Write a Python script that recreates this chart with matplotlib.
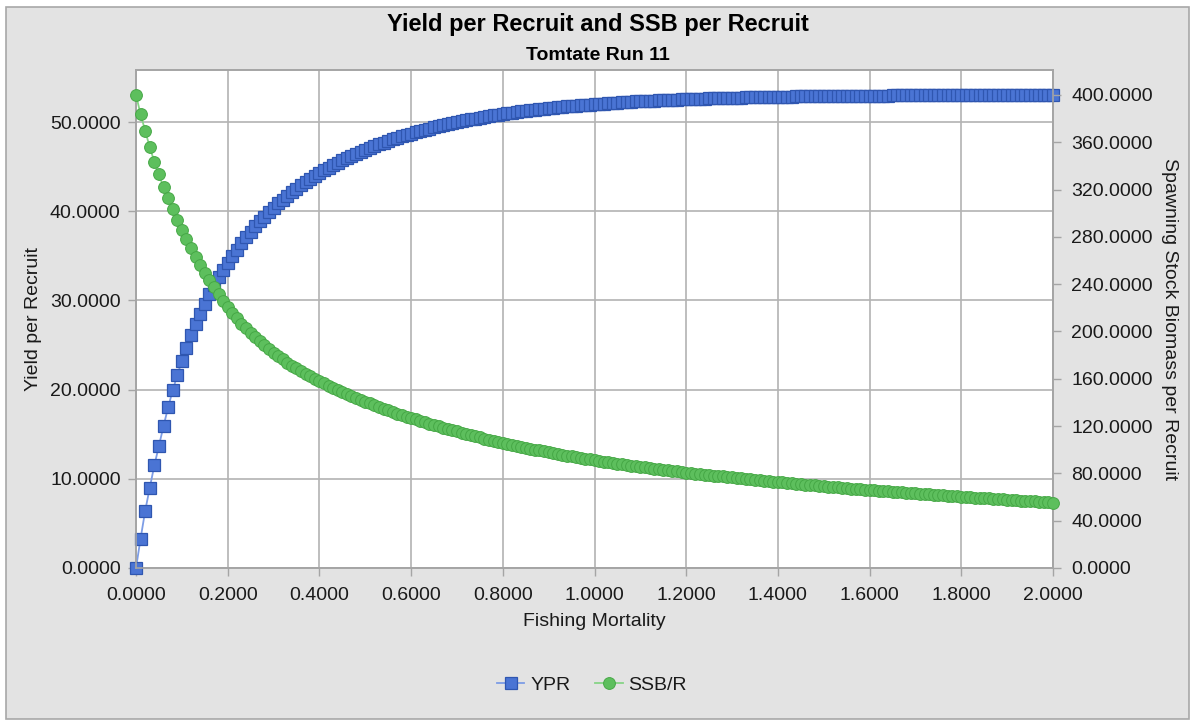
import matplotlib
matplotlib.use("Agg")
import matplotlib.pyplot as plt
from matplotlib.patches import Rectangle
from matplotlib.lines import Line2D
from matplotlib.ticker import FormatStrFormatter, MultipleLocator

plt.rcParams["font.family"] = ["Liberation Sans", "DejaVu Sans"]

# Fishing mortality grid (0.00 .. 2.00 in steps of 0.01)
fishing_mortality = [round(0.01 * i, 2) for i in range(201)]

# Yield per recruit
ypr = [
    0.0, 3.3, 6.4, 9.0, 11.5, 13.7, 15.9, 18.0, 19.9, 21.6,
    23.2, 24.7, 26.1, 27.3, 28.5, 29.6, 30.7, 31.7, 32.6, 33.4,
    34.2, 35.0, 35.7, 36.4, 37.1, 37.7, 38.3, 38.9, 39.4, 39.9,
    40.4, 40.9, 41.3, 41.7, 42.1, 42.5, 42.9, 43.3, 43.6, 44.0,
    44.30, 44.60, 44.89, 45.17, 45.44, 45.70, 45.95, 46.19, 46.43, 46.65,
    46.87, 47.08, 47.29, 47.49, 47.68, 47.86, 48.04, 48.21, 48.38, 48.54,
    48.70, 48.85, 48.99, 49.13, 49.27, 49.40, 49.52, 49.64, 49.76, 49.87,
    49.98, 50.09, 50.19, 50.29, 50.39, 50.48, 50.57, 50.66, 50.74, 50.82,
    50.90, 50.97, 51.04, 51.11, 51.18, 51.25, 51.31, 51.37, 51.43, 51.49,
    51.54, 51.60, 51.65, 51.70, 51.75, 51.79, 51.84, 51.88, 51.92, 51.96,
    52.00, 52.04, 52.07, 52.11, 52.14, 52.18, 52.21, 52.24, 52.27, 52.30,
    52.32, 52.35, 52.38, 52.40, 52.42, 52.45, 52.47, 52.49, 52.51, 52.53,
    52.55, 52.57, 52.59, 52.61, 52.62, 52.64, 52.65, 52.67, 52.68, 52.70,
    52.71, 52.73, 52.74, 52.75, 52.76, 52.77, 52.79, 52.80, 52.81, 52.82,
    52.83, 52.84, 52.85, 52.85, 52.86, 52.87, 52.88, 52.89, 52.89, 52.90,
    52.91, 52.92, 52.92, 52.93, 52.93, 52.94, 52.94, 52.95, 52.95, 52.96,
    52.96, 52.96, 52.97, 52.97, 52.97, 52.98, 52.98, 52.98, 52.99, 52.99,
    52.99, 53.00, 53.00, 53.00, 53.01, 53.01, 53.01, 53.01, 53.02, 53.02,
    53.02, 53.02, 53.02, 53.03, 53.03, 53.03, 53.03, 53.03, 53.03, 53.04,
    53.04, 53.04, 53.04, 53.04, 53.04, 53.04, 53.05, 53.05, 53.05, 53.05,
    53.05,
]

# Spawning stock biomass per recruit
ssb_r = [
    400.0, 383.7, 369.8, 355.8, 343.6, 332.9, 321.9, 312.6, 303.6, 294.3,
    285.8, 278.0, 270.4, 263.3, 256.2, 249.7, 243.5, 237.3, 231.5, 225.9,
    220.5, 215.6, 211.0, 206.7, 202.6, 198.8, 195.1, 191.6, 188.3, 185.1,
    182.1, 179.2, 176.4, 173.7, 171.2, 168.8, 166.5, 164.3, 162.1, 160.0,
    158.0, 156.1, 154.2, 152.4, 150.6, 148.8, 147.1, 145.4, 143.8, 142.2,
    140.6, 139.1, 137.6, 136.1, 134.7, 133.3, 131.9, 130.6, 129.3, 128.0,
    126.8, 125.6, 124.4, 123.2, 122.0, 120.9, 119.8, 118.7, 117.6, 116.5,
    115.5, 114.5, 113.5, 112.5, 111.5, 110.5, 109.5, 108.6, 107.7, 106.8,
    105.9, 105.0, 104.2, 103.4, 102.6, 101.8, 101.0, 100.2, 99.4, 98.6,
    97.9, 97.2, 96.5, 95.8, 95.1, 94.4, 93.7, 93.0, 92.4, 91.8,
    91.2, 90.6, 90.0, 89.4, 88.8, 88.2, 87.6, 87.1, 86.6, 86.1,
    85.6, 85.1, 84.6, 84.1, 83.6, 83.1, 82.6, 82.1, 81.6, 81.1,
    80.6, 80.2, 79.8, 79.4, 79.0, 78.6, 78.2, 77.8, 77.4, 77.0,
    76.6, 76.2, 75.8, 75.4, 75.0, 74.6, 74.2, 73.8, 73.5, 73.1,
    72.8, 72.4, 72.0, 71.7, 71.3, 71.0, 70.6, 70.3, 69.9, 69.6,
    69.2, 68.9, 68.6, 68.2, 67.9, 67.6, 67.2, 66.9, 66.6, 66.3,
    66.0, 65.7, 65.4, 65.1, 64.8, 64.5, 64.2, 64.0, 63.7, 63.4,
    63.1, 62.8, 62.6, 62.3, 62.0, 61.7, 61.4, 61.2, 60.9, 60.6,
    60.3, 60.05, 59.8, 59.55, 59.3, 59.05, 58.8, 58.55, 58.3, 58.05,
    57.8, 57.55, 57.3, 57.05, 56.8, 56.55, 56.3, 56.05, 55.8, 55.55,
    55.3,
]

W, H = 1195, 723
fig = plt.figure(figsize=(W / 100, H / 100), dpi=100, facecolor="white")

# Grey chart panel with border, kept behind the axes
fig.patches.append(Rectangle((6 / W, 1 - 719 / H), (1189 - 6) / W, (719 - 7) / H,
                             transform=fig.transFigure, facecolor="#E3E3E3",
                             edgecolor="#A8A8A8", linewidth=1.2, zorder=-10))

ax = fig.add_axes([136 / W, 1 - 568 / H, 917 / W, 498 / H])
ax.set_facecolor("white")
ax2 = ax.twinx()

grid_c = "#B3B3B3"
spine_c = "#A5A5A5"
text_c = "#1A1A1A"

blue_fill, blue_edge, blue_line = "#4A74D4", "#2F56B0", "#7D9DE6"
green_fill, green_edge, green_line = "#5DBF5D", "#46A846", "#86D486"

ax.plot(fishing_mortality, ypr, color=blue_line, lw=1.3, marker="s", ms=8,
        mfc=blue_fill, mec=blue_edge, mew=0.9, clip_on=False, zorder=3)
ax2.plot(fishing_mortality, ssb_r, color=green_line, lw=1.3, marker="o", ms=8.5,
         mfc=green_fill, mec=green_edge, mew=0.7, clip_on=False, zorder=3)

ax.set_xlim(0, 2.0)
ax.set_ylim(0, 55.83)
ax2.set_ylim(0, 421.1)

ax.xaxis.set_major_locator(MultipleLocator(0.2))
ax.yaxis.set_major_locator(MultipleLocator(10))
ax2.yaxis.set_major_locator(MultipleLocator(40))
ax.xaxis.set_major_formatter(FormatStrFormatter("%.4f"))
ax.yaxis.set_major_formatter(FormatStrFormatter("%.4f"))
ax2.yaxis.set_major_formatter(FormatStrFormatter("%.4f"))

ax.grid(True, color=grid_c, lw=1.2)
ax.set_axisbelow(True)

for a in (ax, ax2):
    for s in a.spines.values():
        s.set_color(spine_c)
        s.set_linewidth(1.2)

ax.tick_params(axis="x", length=6, width=1, color=spine_c, pad=7.5,
               labelsize=14, labelcolor=text_c)
ax.tick_params(axis="y", length=6, width=1, color=spine_c, pad=5,
               labelsize=14, labelcolor=text_c)
ax2.tick_params(axis="y", length=6, width=1, color=spine_c, pad=7,
                labelsize=14, labelcolor=text_c)

ax.set_xlabel("Fishing Mortality", fontsize=14, color=text_c, labelpad=7)
ax.set_ylabel("Yield per Recruit", fontsize=14, color=text_c, labelpad=6)
ax2.set_ylabel("Spawning Stock Biomass per Recruit", fontsize=14, color=text_c,
               rotation=270, labelpad=18)

fig.text(0.5, 1 - 24 / H, "Yield per Recruit and SSB per Recruit", ha="center",
         va="center", fontsize=17, fontweight="bold", color="black")
fig.text(0.5, 1 - 55 / H, "Tomtate Run 11", ha="center", va="center",
         fontsize=14, fontweight="bold", color="black")

handles = [
    Line2D([], [], color=blue_line, lw=1.3, marker="s", ms=8, mfc=blue_fill,
           mec=blue_edge, mew=0.9),
    Line2D([], [], color=green_line, lw=1.3, marker="o", ms=8.5, mfc=green_fill,
           mec=green_edge, mew=0.7),
]
fig.legend(handles, ["YPR", "SSB/R"], loc="center", bbox_to_anchor=(592 / W, 1 - 685 / H),
           ncol=2, frameon=False, fontsize=14, handlelength=1.4, handletextpad=0.3,
           columnspacing=1.3, labelcolor=text_c)

fig.savefig("out.png", dpi=100, facecolor=fig.get_facecolor())
